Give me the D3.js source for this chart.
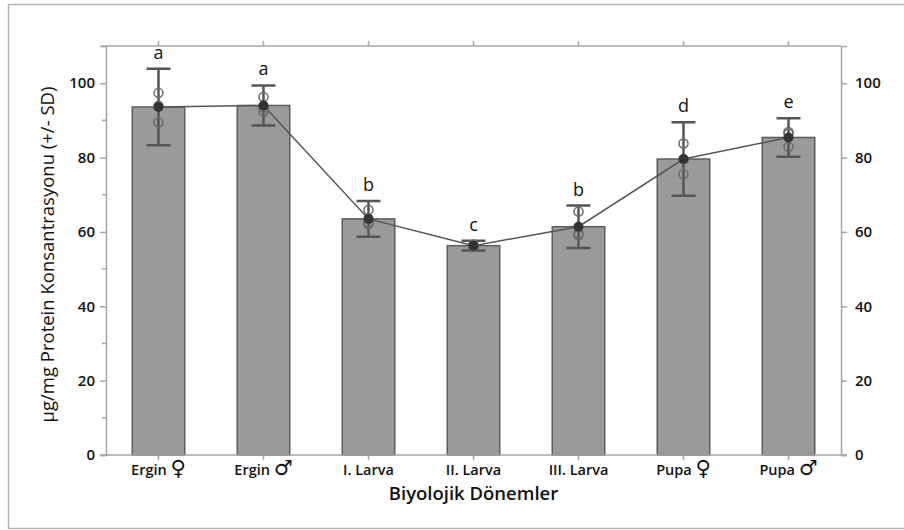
<!DOCTYPE html>
<html>
<head>
<meta charset="utf-8">
<script src="https://cdn.jsdelivr.net/npm/d3@7"></script>
<style>
  html, body { margin: 0; padding: 0; background: #fff; }
  svg { display: block; font-family: "Open Sans", "Noto Sans", sans-serif; }
</style>
</head>
<body>
<svg id="chart" width="904" height="530"></svg>
<script>
// Protein concentration per developmental stage
const stages = ["Ergin", "Ergin", "I. Larva", "II. Larva", "III. Larva", "Pupa", "Pupa"];
const sexSymbols = ["♀", "♂", "", "", "", "♀", "♂"];
const means = [93.6, 94.0, 63.5, 56.3, 61.4, 79.6, 85.4];
const sds = [10.3, 5.4, 4.8, 1.3, 5.7, 9.9, 5.2];
const replicates = [
  [97.4, 89.4, 93.9],
  [96.3, 92.3, 93.4],
  [65.9, 62.1, 62.5],
  [56.6, 56.0, 56.3],
  [65.5, 59.6, 59.1],
  [83.8, 75.5, 79.5],
  [86.9, 82.9, 86.4]
];
const groupLetters = ["a", "a", "b", "c", "b", "d", "e"];
const yTicks = [0, 20, 40, 60, 80, 100];
const yMinorTicks = [10, 30, 50, 70, 90, 110];

const svg = d3.select("#chart");
const mLeft = 106, mRight = 841, mTop = 46, mBottom = 455;
const keys = stages.map((s, i) => i);

const x = d3.scaleBand().domain(keys).range([mLeft, mRight]).paddingInner(0.5).paddingOuter(0.25);
const y = d3.scaleLinear().domain([0, 110]).range([mBottom, mTop]);
const cx = i => x(i) + x.bandwidth() / 2;

const axisColor = "#a6a6a6";

// outer frame
svg.append("path")
  .attr("d", "M904,4.5 H8.5 V528.5 H904")
  .attr("fill", "none").attr("stroke", "#b4b4b4").attr("stroke-width", 1.5);

// bars
svg.append("g").selectAll("rect").data(keys).join("rect")
  .attr("x", i => x(i))
  .attr("width", x.bandwidth())
  .attr("y", i => y(means[i]))
  .attr("height", i => y(0) - y(means[i]))
  .attr("fill", "#9a9a9a")
  .attr("stroke", "#5c5c5c")
  .attr("stroke-width", 1.5);

// axes
const gLeft = svg.append("g").attr("transform", `translate(${mLeft},0)`)
  .call(d3.axisLeft(y).tickValues(yTicks).tickSize(6).tickPadding(5).tickFormat(d3.format("d")));
gLeft.selectAll(".minor").data(yMinorTicks).join("line").attr("class", "minor")
  .attr("x1", 0).attr("x2", -4).attr("y1", d => y(d)).attr("y2", d => y(d));

const gRight = svg.append("g").attr("transform", `translate(${mRight},0)`)
  .call(d3.axisRight(y).tickValues(yTicks).tickSize(6).tickPadding(8).tickFormat(d3.format("d")));

const gTop = svg.append("g").attr("transform", `translate(0,${mTop})`)
  .call(d3.axisTop(x).tickSize(5).tickFormat(() => ""));

const gBottom = svg.append("g").attr("transform", `translate(0,${mBottom})`)
  .call(d3.axisBottom(x).tickSize(5).tickPadding(5).tickFormat(() => ""));

[gLeft, gRight, gTop, gBottom].forEach(g => {
  g.select(".domain").attr("stroke", axisColor).attr("stroke-width", 1.5);
  g.selectAll("line").attr("stroke", axisColor).attr("stroke-width", 1.5);
  g.selectAll("text").attr("fill", "#111").attr("font-size", 15).attr("font-weight", 600)
    .attr("font-family", "'Open Sans', sans-serif");
});
gTop.select(".domain").attr("d", `M${mLeft},0H${mRight}`);
gBottom.select(".domain").attr("d", `M${mLeft - 6},0H${mRight + 6}`);

// category labels
const xl = svg.append("g");
keys.forEach(i => {
  const t = xl.append("text")
    .attr("x", cx(i)).attr("y", mBottom + 20)
    .attr("text-anchor", "middle")
    .attr("font-size", 14.5).attr("font-weight", 600).attr("fill", "#111");
  t.append("tspan").text(stages[i]);
  if (sexSymbols[i]) {
    t.append("tspan").text(" ");
    t.append("tspan").text(sexSymbols[i])
      .attr("font-family", "'DejaVu Sans', sans-serif")
      .attr("font-size", 21).attr("font-weight", 700);
  }
});

// mean connecting line
svg.append("path")
  .datum(keys)
  .attr("d", d3.line().x(i => cx(i)).y(i => y(means[i])))
  .attr("fill", "none").attr("stroke", "#555").attr("stroke-width", 1.5);

// error bars
const cap = 12;
const eb = svg.append("g").attr("stroke", "#555").attr("stroke-width", 2.5).attr("fill", "none");
keys.forEach(i => {
  const y1 = y(means[i] + sds[i]), y0 = y(means[i] - sds[i]);
  eb.append("path")
    .attr("d", `M${cx(i)},${y0}V${y1}M${cx(i) - cap},${y1}H${cx(i) + cap}M${cx(i) - cap},${y0}H${cx(i) + cap}`);
});

// individual replicates
const pts = svg.append("g");
keys.forEach(i => {
  pts.append("g").selectAll("circle").data(replicates[i]).join("circle")
    .attr("cx", cx(i)).attr("cy", d => y(d)).attr("r", 4.5)
    .attr("fill", "none").attr("stroke", "#6a6a6a").attr("stroke-width", 1.5);
});

// means
svg.append("g").selectAll("circle").data(keys).join("circle")
  .attr("cx", i => cx(i)).attr("cy", i => y(means[i])).attr("r", 5)
  .attr("fill", "#333");

// significance letters
svg.append("g").selectAll("text").data(keys).join("text")
  .attr("x", i => cx(i)).attr("y", i => y(means[i] + sds[i]) - 10)
  .attr("text-anchor", "middle").attr("font-size", 18).attr("fill", "#111")
  .text(i => groupLetters[i]);

// axis titles
svg.append("text")
  .attr("transform", `translate(54,${(mTop + mBottom) / 2 + 4}) rotate(-90)`)
  .attr("text-anchor", "middle").attr("font-size", 18.5).attr("font-weight", 500).attr("fill", "#111")
  .text("μg/mg Protein Konsantrasyonu (+/- SD)");

svg.append("text")
  .attr("x", (mLeft + mRight) / 2).attr("y", mBottom + 45)
  .attr("text-anchor", "middle").attr("font-size", 18.5).attr("font-weight", 600).attr("fill", "#111")
  .text("Biyolojik Dönemler");
</script>
</body>
</html>
